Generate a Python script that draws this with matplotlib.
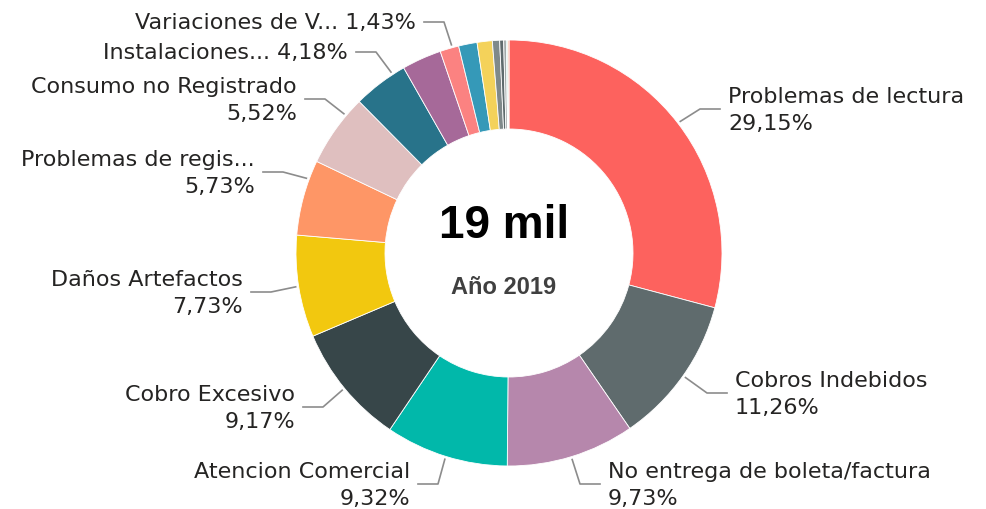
import numpy as np
import matplotlib.pyplot as plt
from matplotlib import font_manager as fm

# data
categorias = ['Problemas de lectura', 'Cobros Indebidos', 'No entrega de boleta/factura',
              'Atencion Comercial', 'Cobro Excesivo', 'Daños Artefactos',
              'Problemas de regis...', 'Consumo no Registrado', 'Instalaciones...',
              'Otros 1', 'Variaciones de V...', 'Otros 2', 'Otros 3', 'Otros 4',
              'Otros 5', 'Otros 6', 'Otros 7', 'Otros 8']
valores = [29.15, 11.26, 9.73, 9.32, 9.17, 7.73, 5.73, 5.52, 4.18,
           3.00, 1.43, 1.40, 1.15, 0.55, 0.30, 0.20, 0.10, 0.10]
colores = ['#FD625E', '#5F6B6D', '#B687AC', '#01B8AA', '#374649', '#F2C80F',
           '#FE9666', '#DFBFBF', '#28738A', '#A66999', '#FB8281', '#3599B8',
           '#F4D25A', '#7F898A', '#5F6B6D', '#A0A8A8', '#4AC5BB', '#FDAB89']
total_txt = '19 mil'
subtitulo = 'Año 2019'

# label layout: (index, x, y of first line in px, ha, two lines, leader nudge in %)
etiquetas = [
    (0, 728, 97, 'left', True, 0.0),
    (1, 735, 381, 'left', True, 0.0),
    (2, 608, 472, 'left', True, 0.0),
    (3, 410, 472, 'right', True, 0.0),
    (4, 295, 395, 'right', True, 0.0),
    (5, 243, 280, 'right', True, 0.0),
    (6, 255, 160, 'right', True, 1.4),
    (7, 297, 87, 'right', True, 1.3),
    (8, 348, 53, 'right', False, 1.1),
    (10, 416, 23, 'right', False, 0.2),
]

# bold Arial-like font for the centre text
bold_files = [f for f in fm.findSystemFonts() if f.endswith('LiberationSans-Bold.ttf')]
if bold_files:
    fp_bold = fm.FontProperties(fname=bold_files[0])
else:
    fp_bold = fm.FontProperties(family='DejaVu Sans', weight='bold')

W, H = 987, 510
cx, cy = 509, 254
R, r_in = 213, 124
fs = 16

fig = plt.figure(figsize=(W / 100, H / 100), dpi=100)
ax = fig.add_axes([0, 0, 1, 1])
ax.pie(valores, colors=colores, startangle=90, counterclock=False,
       radius=R, center=(cx, H - cy),
       wedgeprops=dict(width=R - r_in, edgecolor='white', linewidth=0.6))
ax.set_xlim(0, W)
ax.set_ylim(0, H)
ax.axis('off')

cum = np.concatenate([[0], np.cumsum(valores)])
for i, x, y1, ha, dos, nudge in etiquetas:
    pct = f"{valores[i]:.2f}".replace('.', ',') + '%'
    if dos:
        ax.text(x, H - y1, categorias[i], ha=ha, va='center', fontsize=fs, color='#252423')
        ax.text(x, H - (y1 + 27), pct, ha=ha, va='center', fontsize=fs, color='#252423')
        ly = y1 + 13
    else:
        ax.text(x, H - y1, categorias[i] + ' ' + pct, ha=ha, va='center', fontsize=fs, color='#252423')
        ly = y1
    frac = (cum[i] + valores[i] / 2 + nudge) / 100
    th = 2 * np.pi * frac
    sx = cx + (R + 3) * np.sin(th)
    sy = cy - (R + 3) * np.cos(th)
    s = 1 if ha == 'left' else -1
    ex = x - s * 8
    kx = x - s * 28
    ax.plot([sx, kx, ex], [H - sy, H - ly, H - ly], color='#8c8c8c', lw=1.2)

ax.text(cx - 5, H - 226, total_txt, ha='center', va='center', fontsize=33,
        fontproperties=fp_bold, color='black')
ax.text(cx - 5, H - 288, subtitulo, ha='center', va='center', fontsize=17,
        fontproperties=fp_bold, color='#404040')

fig.savefig('out.png', dpi=100)
